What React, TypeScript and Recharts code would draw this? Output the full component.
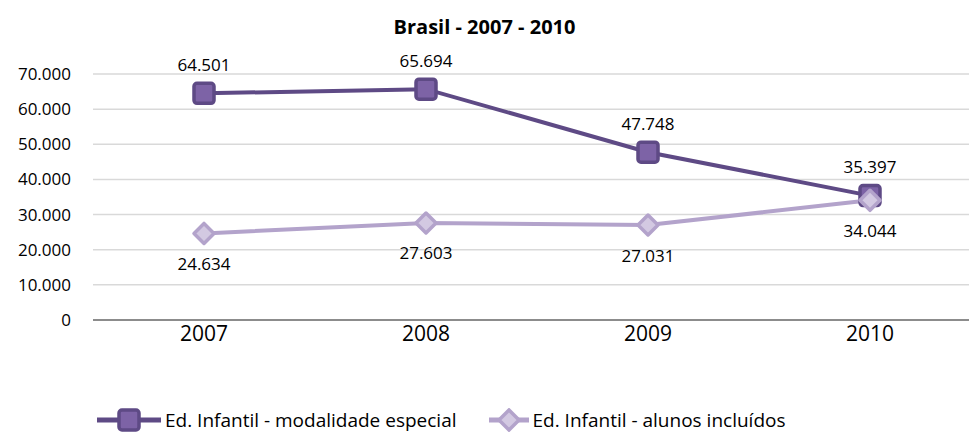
import React from 'react';
import { LineChart, Line, XAxis, YAxis, CartesianGrid, LabelList, Legend } from 'recharts';

const years = ['2007', '2008', '2009', '2010'];
const modalidadeEspecial = [64501, 65694, 47748, 35397];
const alunosIncluidos = [24634, 27603, 27031, 34044];
const yTicks = [0, 10000, 20000, 30000, 40000, 50000, 60000, 70000];

const data = years.map((year, i) => ({
  year,
  especial: modalidadeEspecial[i],
  incluidos: alunosIncluidos[i],
}));

const FONT = '"Open Sans", "Noto Sans", sans-serif';
const DARK = '#5e4a85';
const DARK_FILL = '#7d63a6';
const LIGHT = '#b3a3cb';
const LIGHT_FILL = '#d3c9e2';

const fmt = (v: number) => v.toLocaleString('pt-BR');

const SquareDot = (props: any) => {
  const { cx, cy } = props;
  if (cx == null || cy == null) return null;
  return <rect x={cx - 10} y={cy - 10} width={20} height={20} rx={3} fill={DARK_FILL} stroke={DARK} strokeWidth={3.5} />;
};

const DiamondDot = (props: any) => {
  const { cx, cy } = props;
  if (cx == null || cy == null) return null;
  const r = 10;
  return (
    <polygon
      points={`${cx},${cy - r} ${cx + r},${cy} ${cx},${cy + r} ${cx - r},${cy}`}
      fill={LIGHT_FILL}
      stroke={LIGHT}
      strokeWidth={3.5}
      strokeLinejoin="round"
    />
  );
};

const labelAt = (dy: number) => (props: any) => {
  const { x, y, value } = props;
  return (
    <text x={x} y={y + dy} textAnchor="middle" dominantBaseline="central" fontFamily={FONT} fontSize={17} fill="#000">
      {fmt(value)}
    </text>
  );
};

const LegendContent = () => (
  <div style={{ display: 'flex', fontFamily: FONT, fontSize: 19, color: '#000', paddingLeft: 97 }}>
    <div style={{ display: 'flex', alignItems: 'center', marginRight: 32 }}>
      <svg width={64} height={24}>
        <line x1={0} y1={12} x2={64} y2={12} stroke={DARK} strokeWidth={5} />
        <rect x={22} y={2} width={20} height={20} rx={3} fill={DARK_FILL} stroke={DARK} strokeWidth={3.5} />
      </svg>
      <span style={{ marginLeft: 4 }}>Ed. Infantil - modalidade especial</span>
    </div>
    <div style={{ display: 'flex', alignItems: 'center' }}>
      <svg width={40} height={24}>
        <line x1={0} y1={12} x2={40} y2={12} stroke={LIGHT} strokeWidth={5} />
        <polygon points="20,2 30,12 20,22 10,12" fill={LIGHT_FILL} stroke={LIGHT} strokeWidth={3.5} />
      </svg>
      <span style={{ marginLeft: 4 }}>Ed. Infantil - alunos incluídos</span>
    </div>
  </div>
);

export default function App() {
  return (
    <div style={{ position: 'fixed', left: 0, top: 0, width: 969, height: 439, overflow: 'hidden', background: '#fff' }}>
      <div
        style={{
          position: 'absolute',
          top: 13,
          width: 969,
          textAlign: 'center',
          fontFamily: FONT,
          fontWeight: 700,
          fontSize: 20,
          color: '#000',
        }}
      >
        Brasil - 2007 - 2010
      </div>
      <LineChart width={985} height={439} data={data} margin={{ top: 74, right: 4, bottom: 0, left: 0 }}>
        <CartesianGrid vertical={false} stroke="#d9d9d9" strokeWidth={1.5} />
        <XAxis
          dataKey="year"
          padding={{ left: 111, right: 111 }}
          axisLine={{ stroke: '#8c8c8c', strokeWidth: 2 }}
          tickLine={false}
          tick={{ fontFamily: FONT, fontSize: 21, fill: '#000' }}
          tickMargin={0}
          height={93}
        />
        <YAxis
          domain={[0, 70000]}
          ticks={yTicks}
          width={93}
          axisLine={false}
          tickLine={false}
          tickFormatter={fmt}
          tick={{ fontFamily: FONT, fontSize: 17, fill: '#000' }}
          tickMargin={16}
        />
        <Line
          dataKey="especial"
          stroke={DARK}
          strokeWidth={4}
          dot={<SquareDot />}
          activeDot={false}
          isAnimationActive={false}
        >
          <LabelList dataKey="especial" content={labelAt(-29)} />
        </Line>
        <Line
          dataKey="incluidos"
          stroke={LIGHT}
          strokeWidth={4}
          dot={<DiamondDot />}
          activeDot={false}
          isAnimationActive={false}
        >
          <LabelList dataKey="incluidos" content={labelAt(30)} />
        </Line>
        <Legend verticalAlign="bottom" content={<LegendContent />} wrapperStyle={{ bottom: 6, left: 0 }} />
      </LineChart>
    </div>
  );
}
